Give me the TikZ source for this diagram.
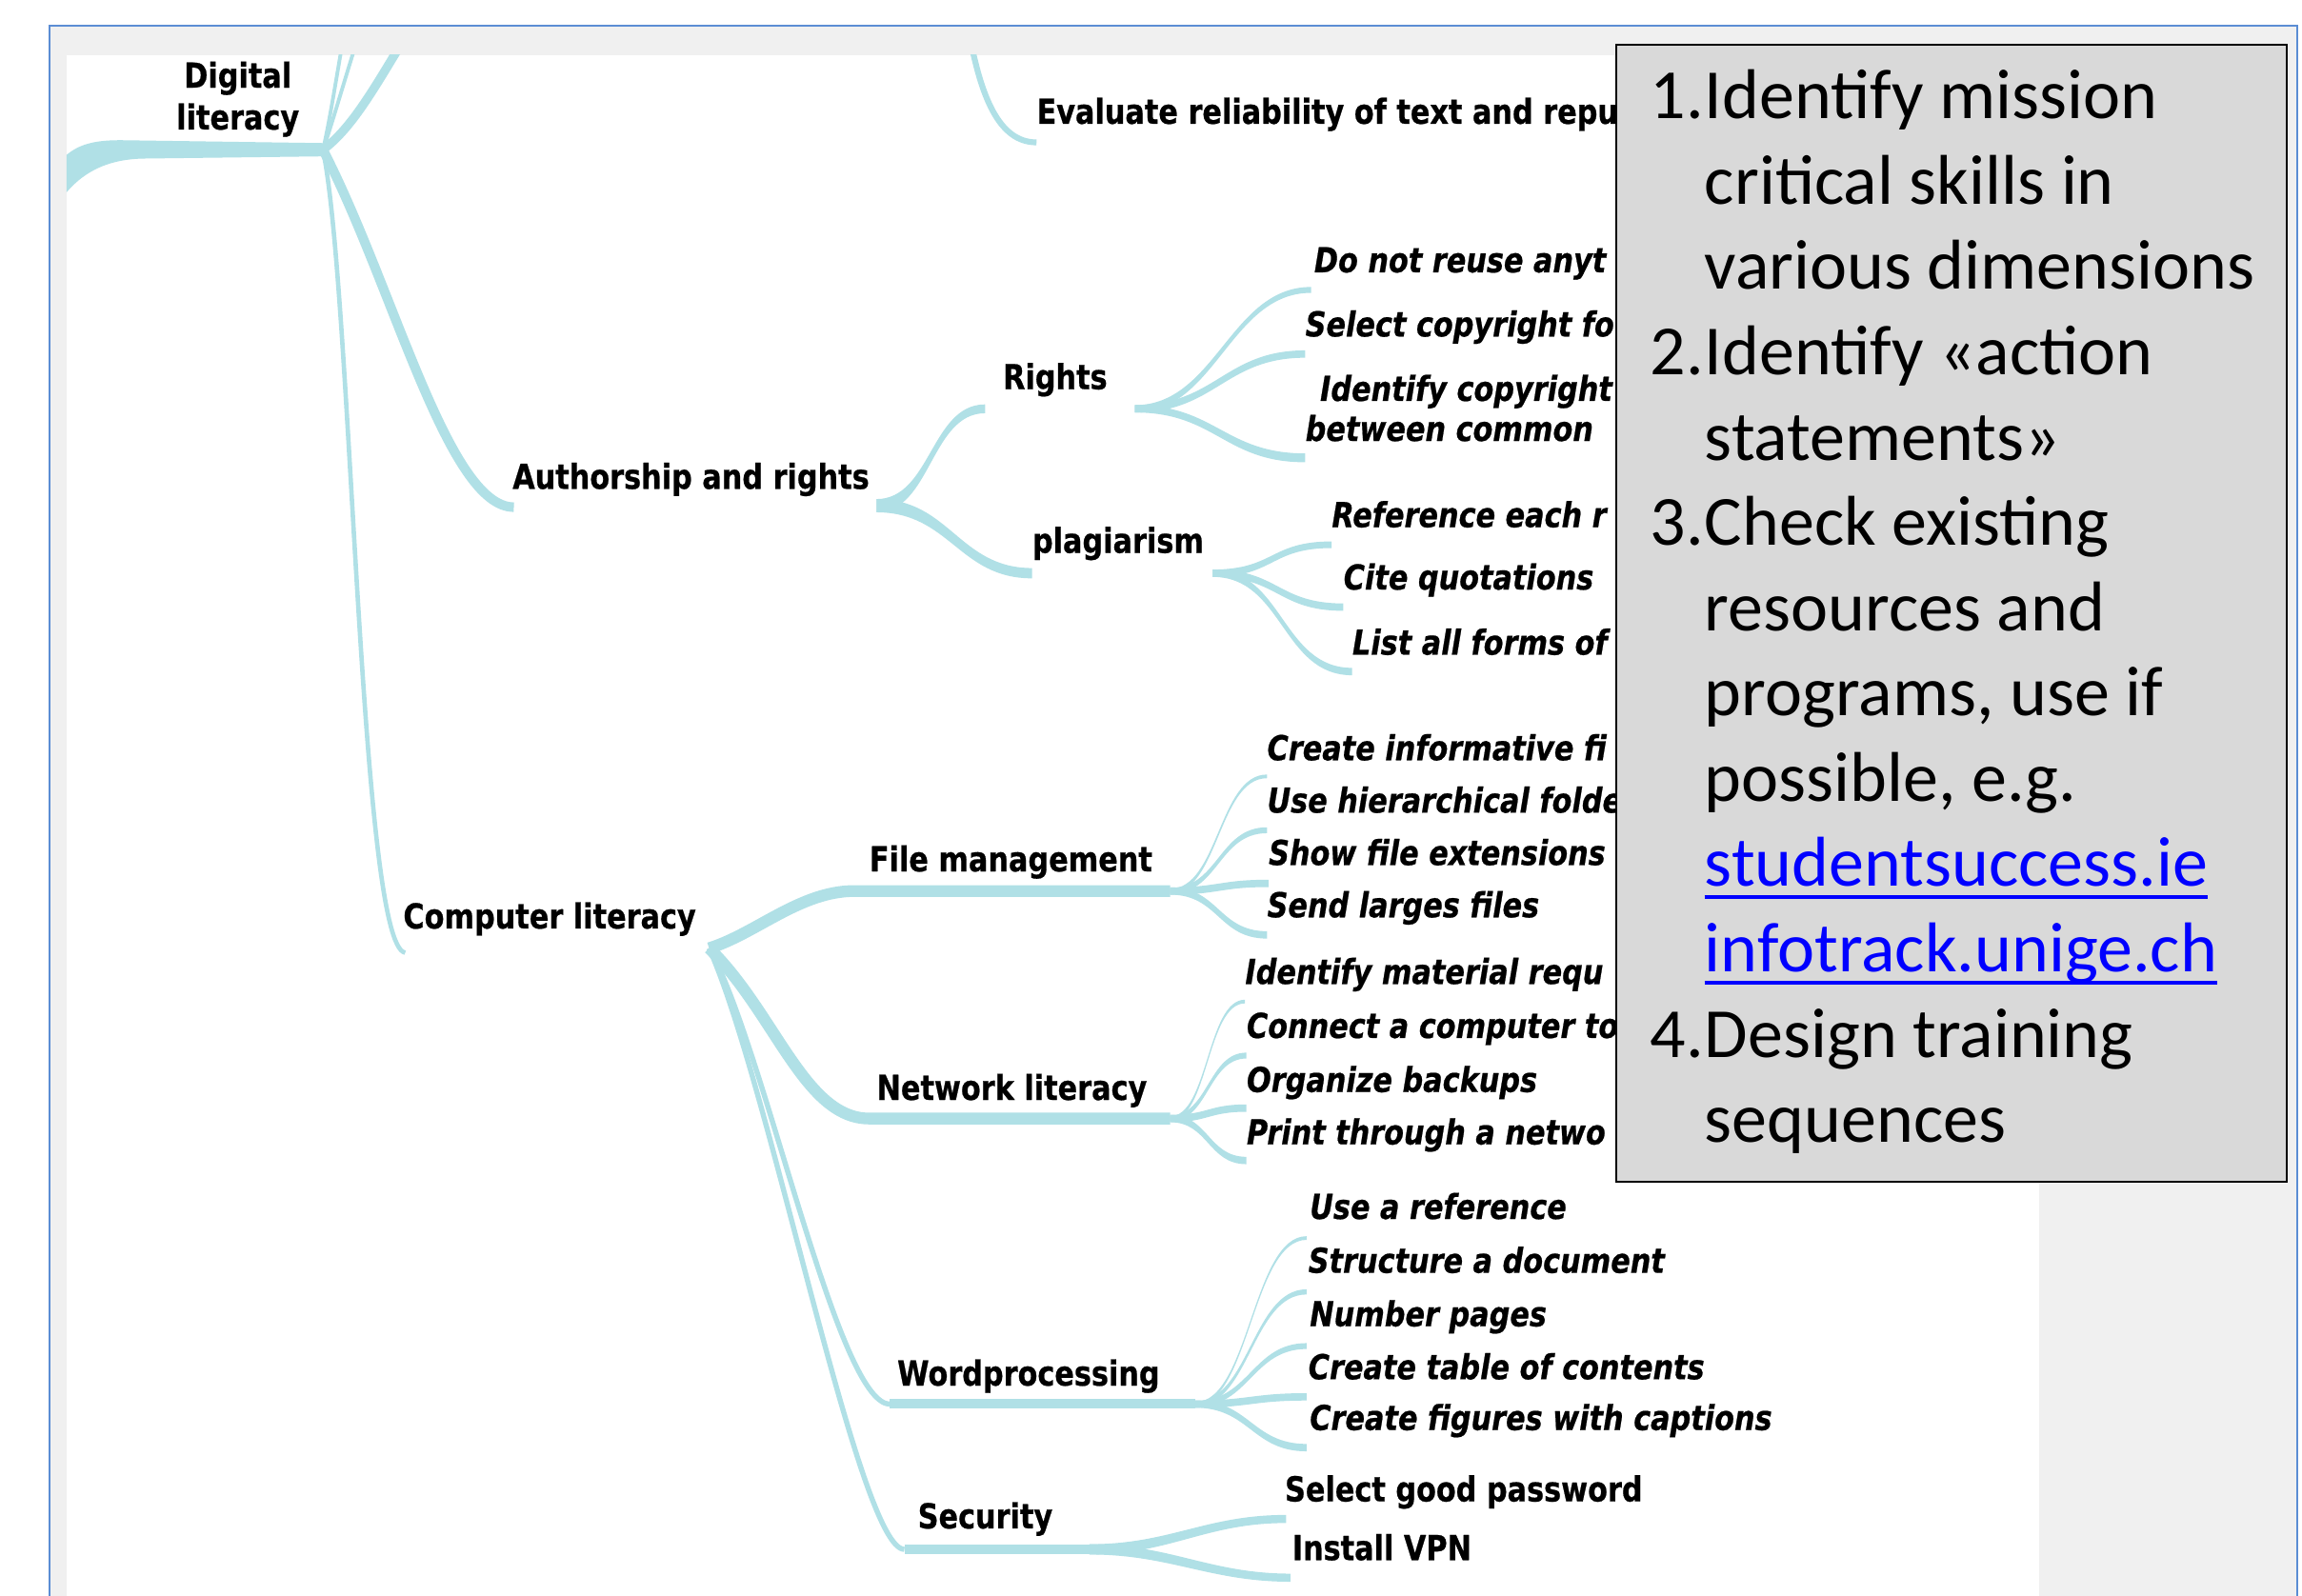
\documentclass[tikz,border=0pt]{standalone}
\usepackage{fontspec}
\usetikzlibrary{calc}
\newfontfamily\mmfont{DejaVu Sans}[FakeStretch=0.84, FakeBold=0.6]
\newfontfamily\boxfont{Carlito}
\definecolor{brc}{RGB}{176,224,230}
\definecolor{framegray}{RGB}{240,240,240}
\definecolor{frameblue}{RGB}{91,141,212}
\definecolor{boxgray}{RGB}{217,217,217}
\definecolor{linkblue}{RGB}{0,0,255}
\tikzset{
  mmb/.style={font=\mmfont\bfseries\fontsize{23.4}{28}\selectfont, anchor=base west, inner sep=0pt, text=black},
  mmi/.style={font=\mmfont\bfseries\itshape\fontsize{23.4}{28}\selectfont, anchor=base west, inner sep=0pt, text=black},
  bx/.style={font=\boxfont\fontsize{48}{58}\selectfont, anchor=base west, inner sep=0pt, text=black},
  bxlink/.style={bx, text=linkblue},
  brstroke/.style={draw=brc, line cap=butt, line join=round},
}
\newcommand{\mmbranch}[5]{%
  \fill[brc] ($(#1)+(0,-#3/2)$) .. controls ($(#1)+(#5,-#3/2)$) and ($(#2)+(-#5,-#4/2)$) .. ($(#2)+(0,-#4/2)$)
    -- ($(#2)+(0,#4/2)$) .. controls ($(#2)+(-#5,#4/2)$) and ($(#1)+(#5,#3/2)$) .. ($(#1)+(0,#3/2)$) -- cycle;}
\begin{document}
\begin{tikzpicture}[x=1pt,y=-1pt]
\useasboundingbox (0,0) rectangle (1568,1087);
\fill[white] (0,0) rectangle (1568,1087);
\fill[framegray] (33.8,17.3) rectangle (1564.6,1092);
\draw[frameblue, line width=1.2] (33.8,1092) -- (33.8,17.3) -- (1564.6,17.3) -- (1564.6,1092);
\fill[white] (45.4,37.6) rectangle (1389,1092);

\begin{scope}
\clip (45.4,37.6) rectangle (1389,1092);
% ---------- text nodes ----------
\node[mmb, anchor=base] (dl1) at (162,59.7) {Digital};
\node[mmb, anchor=base] (dl2) at (162,88.2) {literacy};
\node[mmb] (ev) at (706,84.3) {Evaluate reliability of text and repu};
\node[mmb] (auth) at (349,333) {Authorship and rights};
\node[mmb] (rights) at (683,265.1) {Rights};
\node[mmb] (plag) at (703,376.6) {plagiarism};
\node[mmi] (r1) at (895,185.5) {Do not reuse anyt};
\node[mmi] (r2) at (889,229.2) {Select copyright fo};
\node[mmi] (r3a) at (899,273.1) {Identify copyright};
\node[mmi] (r3b) at (889,300.4) {between common};
\node[mmi] (p1) at (907,359.1) {Reference each r};
\node[mmi] (p2) at (915,401.6) {Cite quotations};
\node[mmi] (p3) at (921,446) {List all forms of};
\node[mmb] (comp) at (274.5,632.5) {Computer literacy};
\node[mmb] (fm) at (592,593.6) {File management};
\node[mmi] (f1) at (863,517.9) {Create informative fi};
\node[mmi] (f2) at (863,553.6) {Use hierarchical folde};
\node[mmi] (f3) at (864,589.3) {Show file extensions};
\node[mmi] (f4) at (863,624.9) {Send larges files};
\node[mmb] (nl) at (597,749.3) {Network literacy};
\node[mmi] (n1) at (848,670.3) {Identify material requ};
\node[mmi] (n2) at (849,707.1) {Connect a computer to};
\node[mmi] (n3) at (849,743.9) {Organize backups};
\node[mmi] (n4) at (849,779.6) {Print through a netwo};
\node[mmb] (wp) at (611,943.9) {Wordprocessing};
\node[mmi] (w1) at (892,830.4) {Use a reference};
\node[mmi] (w2) at (891,867.1) {Structure a document};
\node[mmi] (w3) at (892,903.5) {Number pages};
\node[mmi] (w4) at (891,939.6) {Create table of contents};
\node[mmi] (w5) at (892,974.2) {Create figures with captions};
\node[mmb] (sec) at (625,1041.2) {Security};
\node[mmb] (pw) at (875,1022.8) {Select good password};
\node[mmb] (vpn) at (880,1062.8) {Install VPN};

% ---------- coordinates ----------
\coordinate (hubD) at (220,102);
\coordinate (topA) at (234,25);
\coordinate (topB) at (244,25);
\coordinate (topC) at (278,22);
\coordinate (topE) at (660,22);
\coordinate (evIn) at (706,97);
\coordinate (authIn) at (350,345.5);
\coordinate (authOut) at (597,344.5);
\coordinate (compIn) at (276,649);
\coordinate (compOut) at (483,646);
\coordinate (rightsIn) at (671,278.5);
\coordinate (rightsOut) at (773,278.5);
\coordinate (plagIn) at (703,390.5);
\coordinate (plagOut) at (826,390.5);
\coordinate (fmIn) at (582,607);
\coordinate (fmOut) at (797,607);
\coordinate (nlIn) at (592,762);
\coordinate (nlOut) at (797,762);
\coordinate (wpIn) at (606,956.5);
\coordinate (wpOut) at (814,956.5);
\coordinate (secIn) at (616,1055.5);
\coordinate (secOut) at (742,1055.5);
\coordinate (r1E) at ($(r1.base west)+(-2,12)$);
\coordinate (r2E) at ($(r2.base west)+(0,12)$);
\coordinate (r3E) at ($(r3b.base west)+(0,11.5)$);
\coordinate (p1E) at ($(p1.base west)+(0,12)$);
\coordinate (p2E) at ($(p2.base west)+(0,12)$);
\coordinate (p3E) at ($(p3.base west)+(0,11.5)$);
\coordinate (f1E) at ($(f1.base west)+(0,11)$);
\coordinate (f2E) at ($(f2.base west)+(0,12)$);
\coordinate (f3E) at ($(f3.base west)+(0,12.5)$);
\coordinate (f4E) at ($(f4.base west)+(0,12)$);
\coordinate (n1E) at ($(n1.base west)+(0,12)$);
\coordinate (n2E) at ($(n2.base west)+(0,12)$);
\coordinate (n3E) at ($(n3.base west)+(0,11)$);
\coordinate (n4E) at ($(n4.base west)+(0,11)$);
\coordinate (w1E) at ($(w1.base west)+(-2,13)$);
\coordinate (w2E) at ($(w2.base west)+(-1,13)$);
\coordinate (w3E) at ($(w3.base west)+(-2,13.5)$);
\coordinate (w4E) at ($(w4.base west)+(-1,12)$);
\coordinate (w5E) at ($(w5.base west)+(-2,12)$);
\coordinate (s1E) at ($(pw.base west)+(1,12)$);
\coordinate (s2E) at ($(vpn.base west)+(-1,12)$);

% ---------- trunk ----------
\fill[brc] (40,111) .. controls (50,99) and (62,95.5) .. (82,95.5) -- (221,97.5) -- (221,106.5) -- (100,108) .. controls (75,108) and (55,116) .. (40,138) -- cycle;

% ---------- strokes from Digital literacy hub ----------
\draw[brstroke, line width=2.5] (hubD) .. controls (224,85) and (228,60) .. (topA);
\draw[brstroke, line width=2.5] (hubD) .. controls (226,85) and (233,60) .. (topB);
\draw[brstroke, line width=6] (hubD) .. controls (240,87) and (255,60) .. (topC);
\draw[brstroke, line width=6.5] (hubD) .. controls (268,195) and (305,345.5) .. (authIn);
\draw[brstroke, line width=3] (hubD) .. controls (240,200) and (245,645) .. (compIn);
\draw[brstroke, line width=4] (topE) .. controls (668,65) and (680,97) .. (evIn);

% ---------- Authorship ----------
\mmbranch{authOut}{rightsIn}{9}{6}{37}
\mmbranch{authOut}{plagIn}{9}{7}{50}
\mmbranch{rightsOut}{r1E}{5}{4}{55}
\mmbranch{rightsOut}{r2E}{5}{5}{55}
\mmbranch{rightsOut}{r3E}{5}{6}{55}
\mmbranch{plagOut}{p1E}{5}{4.5}{42}
\mmbranch{plagOut}{p2E}{5}{5}{45}
\mmbranch{plagOut}{p3E}{5}{5}{48}

% ---------- Computer literacy ----------
\draw[brstroke, line width=8] (compOut) .. controls (515,636) and (545,607) .. (fmIn) -- (fmOut);
\draw[brstroke, line width=8] (compOut) .. controls (528,690) and (548,762) .. (nlIn) -- (nlOut);
\draw[brstroke, line width=3.5] (compOut) .. controls (520,710) and (570,956.5) .. (wpIn);
\draw[brstroke, line width=6.5] (wpIn) -- (wpOut);
\draw[brstroke, line width=3.5] (compOut) .. controls (525,740) and (585,1055.5) .. (secIn);
\draw[brstroke, line width=7] (secIn) -- (secOut);

\mmbranch{fmOut}{f1E}{3}{2.5}{33}
\mmbranch{fmOut}{f2E}{4}{4}{33}
\mmbranch{fmOut}{f3E}{5}{5}{33}
\mmbranch{fmOut}{f4E}{5}{5}{33}
\mmbranch{nlOut}{n1E}{3}{2.5}{26}
\mmbranch{nlOut}{n2E}{4}{4}{26}
\mmbranch{nlOut}{n3E}{5}{5}{26}
\mmbranch{nlOut}{n4E}{5}{5}{26}
\mmbranch{wpOut}{w1E}{2.5}{2.5}{37}
\mmbranch{wpOut}{w2E}{3.5}{3.5}{37}
\mmbranch{wpOut}{w3E}{4}{4}{37}
\mmbranch{wpOut}{w4E}{5}{5}{37}
\mmbranch{wpOut}{w5E}{5}{5}{37}
\mmbranch{secOut}{s1E}{7}{5.5}{55}
\mmbranch{secOut}{s2E}{7}{5.5}{55}
\end{scope}

% ---------- grey box ----------
\node[draw=black, line width=1.3, fill=boxgray, minimum width=457, minimum height=774.4, anchor=north west, inner sep=0pt] (box) at (1100,30) {};
\node[bx] (b1n) at (1124,81) {1.};
\node[bx] (b1) at (1161,81) {Identify mission};
\node[bx] (b2) at (1161,139.1) {critical skills in};
\node[bx] (b3) at (1161,197.2) {various dimensions};
\node[bx] (b4n) at (1124,255.3) {2.};
\node[bx] (b4) at (1161,255.3) {Identify «action};
\node[bx] (b5) at (1161,313.4) {statements»};
\node[bx] (b6n) at (1124,371.5) {3.};
\node[bx] (b6) at (1161,371.5) {Check existing};
\node[bx] (b7) at (1161,429.6) {resources and};
\node[bx] (b8) at (1161,487.7) {programs, use if};
\node[bx] (b9) at (1161,545.8) {possible, e.g.};
\node[bxlink] (l1) at (1161,603.9) {studentsuccess.ie};
\node[bxlink] (l2) at (1161,662.0) {infotrack.unige.ch};
\node[bx] (b12n) at (1124,720.1) {4.};
\node[bx] (b12) at (1161,720.1) {Design training};
\node[bx] (b13) at (1161,778.2) {sequences};
\draw[linkblue, line width=2.6] ($(l1.base west)+(0,7.5)$) -- ($(l1.base east)+(0,7.5)$);
\draw[linkblue, line width=2.6] ($(l2.base west)+(0,7.5)$) -- ($(l2.base east)+(0,7.5)$);
\end{tikzpicture}
\end{document}
